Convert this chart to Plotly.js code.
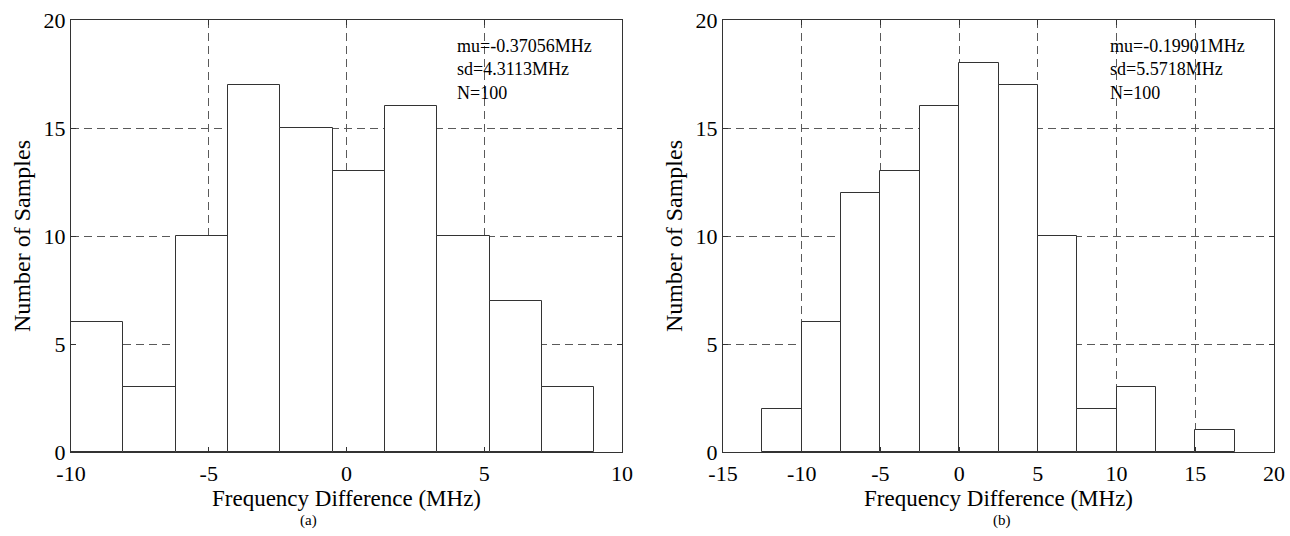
<!DOCTYPE html>
<html>
<head>
<meta charset="utf-8">
<script src="https://cdn.plot.ly/plotly-3.0.1.min.js"></script>
<style>html,body{margin:0;padding:0;background:#fff;}#chart{width:1290px;height:536px;}</style>
</head>
<body>
<div id="chart"></div>
<script>
// Panel (a) histogram
const binEdgesA = [-10, -8.1, -6.2, -4.3, -2.4, -0.5, 1.4, 3.3, 5.2, 7.1, 9.0];
const countsA = [6, 3, 10, 17, 15, 13, 16, 10, 7, 3];
const statsA = ["mu=-0.37056MHz", "sd=4.3113MHz", "N=100"];
const xTicksA = [-10, -5, 0, 5, 10];

// Panel (b) histogram
const binEdgesB = [-12.5, -10, -7.5, -5, -2.5, 0, 2.5, 5, 7.5, 10, 12.5, 15, 17.5];
const countsB = [2, 6, 12, 13, 16, 18, 17, 10, 2, 3, 0, 1];
const statsB = ["mu=-0.19901MHz", "sd=5.5718MHz", "N=100"];
const xTicksB = [-15, -10, -5, 0, 5, 10, 15, 20];

const yTicks = [0, 5, 10, 15, 20];
const xTitle = "Frequency Difference (MHz)";
const yTitle = "Number of Samples";
const panelLabels = ["(a)", "(b)"];

function centers(e){ const c=[]; for(let i=0;i<e.length-1;i++) c.push((e[i]+e[i+1])/2); return c; }
function widths(e){ const w=[]; for(let i=0;i<e.length-1;i++) w.push(e[i+1]-e[i]); return w; }

const W = 1290, H = 536;
const FONT = "Liberation Serif, Times New Roman, serif";
const barStyle = {color: "#ffffff", line: {color: "#333333", width: 1}};

const traces = [
  {type: "bar", x: centers(binEdgesA), y: countsA, width: widths(binEdgesA), marker: barStyle, xaxis: "x", yaxis: "y", hoverinfo: "x+y"},
  {type: "bar", x: centers(binEdgesB), y: countsB, width: widths(binEdgesB), marker: barStyle, xaxis: "x2", yaxis: "y2", hoverinfo: "x+y"}
];

function xaxisDef(domainPx, range, ticks){
  return {
    domain: [domainPx[0]/W, domainPx[1]/W], range: range, tickvals: ticks, ticktext: ticks.map(String),
    showgrid: true, gridcolor: "#5a5a5a", griddash: "8px,5px", gridwidth: 1, zeroline: false,
    showline: true, linecolor: "#333333", linewidth: 1, mirror: "ticks",
    ticks: "inside", ticklen: 5, tickcolor: "#333333",
    tickfont: {family: FONT, size: 22, color: "#000"}, ticklabelstandoff: 2,
    title: {text: xTitle, font: {family: FONT, size: 23, color: "#000"}, standoff: 2},
    fixedrange: true
  };
}
function yaxisDef(anchor){
  return {
    domain: [1-452/H, 1-20/H], range: [0, 20], tickvals: yTicks, ticktext: yTicks.map(String),
    showgrid: true, gridcolor: "#5a5a5a", griddash: "8px,5px", gridwidth: 1, zeroline: false,
    showline: true, linecolor: "#333333", linewidth: 1, mirror: "ticks",
    ticks: "inside", ticklen: 5, tickcolor: "#333333",
    tickfont: {family: FONT, size: 22, color: "#000"},
    title: {text: yTitle, font: {family: FONT, size: 24, color: "#000"}, standoff: 6},
    anchor: anchor, fixedrange: true
  };
}

const layout = {
  width: W, height: H,
  margin: {l: 0, r: 0, t: 0, b: 0},
  paper_bgcolor: "#fff", plot_bgcolor: "#fff",
  showlegend: false, bargap: 0,
  xaxis: Object.assign(xaxisDef([71, 622], [-10, 10], xTicksA), {anchor: "y"}),
  yaxis: yaxisDef("x"),
  xaxis2: Object.assign(xaxisDef([723, 1274], [-15, 20], xTicksB), {anchor: "y2"}),
  yaxis2: yaxisDef("x2"),
  annotations: [
    {xref: "paper", yref: "paper", x: 455/W, y: 1-34/H, xanchor: "left", yanchor: "top", align: "left",
     text: statsA.join("<br>"), showarrow: false, font: {family: FONT, size: 18, color: "#000"}},
    {xref: "paper", yref: "paper", x: 1108/W, y: 1-34/H, xanchor: "left", yanchor: "top", align: "left",
     text: statsB.join("<br>"), showarrow: false, font: {family: FONT, size: 18, color: "#000"}},
    {xref: "paper", yref: "paper", x: 308/W, y: 1-520/H, xanchor: "center", yanchor: "middle",
     text: panelLabels[0], showarrow: false, font: {family: FONT, size: 15, color: "#000"}},
    {xref: "paper", yref: "paper", x: 1002/W, y: 1-520/H, xanchor: "center", yanchor: "middle",
     text: panelLabels[1], showarrow: false, font: {family: FONT, size: 15, color: "#000"}}
  ]
};

Plotly.newPlot("chart", traces, layout, {displayModeBar: false});
</script>
</body>
</html>
